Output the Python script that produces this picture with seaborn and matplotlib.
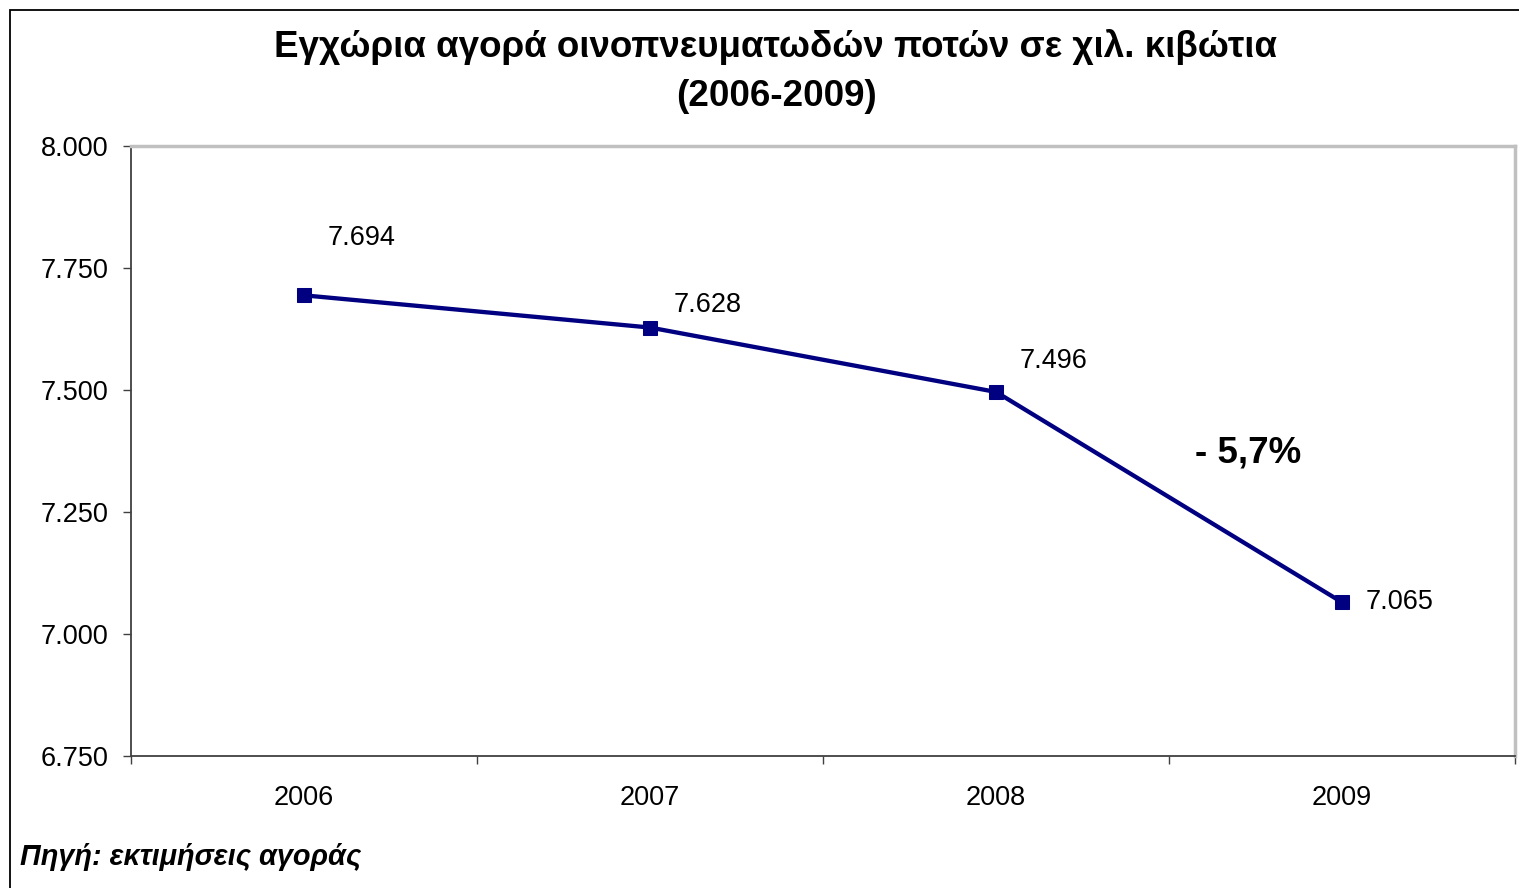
import numpy as np
import pandas as pd
import matplotlib
matplotlib.use('Agg')
import matplotlib.pyplot as plt
import matplotlib.patches as mpatches
from matplotlib.ticker import FixedLocator, FuncFormatter
import seaborn as sns

years = ['2006', '2007', '2008', '2009']
volumes = [7694, 7628, 7496, 7065]  # χιλ. κιβώτια
y_ticks = [6750, 7000, 7250, 7500, 7750, 8000]
# label offsets (px) as placed in the original
label_dx = [58, 58, 58, 58]
label_dy = [57, 23, 31, 0]

df = pd.DataFrame({'year': years, 'volume': volumes})

sns.set_style('white')
plt.rcParams['font.family'] = ['Liberation Sans', 'DejaVu Sans']
plt.rcParams['text.color'] = 'black'
plt.rcParams['xtick.color'] = 'black'
plt.rcParams['ytick.color'] = 'black'

W, H = 1519, 888
fig = plt.figure(figsize=(W / 100, H / 100), dpi=100)
ax = fig.add_axes([131 / W, 1 - 756 / H, (1515 - 131) / W, (756 - 146) / H])

sns.lineplot(data=df, x='year', y='volume', ax=ax, color='#000080',
             linewidth=3.1, marker='s', markersize=10.5,
             markeredgecolor='#000080', sort=False)

ax.set_xlim(-0.5, 3.5)
ax.set_ylim(y_ticks[0], y_ticks[-1])
ax.set_yticks(y_ticks)
ax.yaxis.set_major_formatter(FuncFormatter(lambda v, p: f'{int(v):,}'.replace(',', '.')))
ax.set_xticks(range(len(years)))
ax.set_xticklabels(years)
ax.xaxis.set_minor_locator(FixedLocator(np.arange(-0.5, 4.0, 1.0)))
ax.tick_params(axis='x', which='major', length=0, pad=21, labelsize=19.5)
ax.tick_params(axis='x', which='minor', length=6, width=1, color='#404040', direction='out', bottom=True)
ax.tick_params(axis='y', length=6, width=1, color='#404040', direction='out', left=True, pad=10, labelsize=19.5)
ax.set_xlabel('')
ax.set_ylabel('')

for side in ['left', 'bottom']:
    ax.spines[side].set_color('#404040')
    ax.spines[side].set_linewidth(1.3)
for side in ['top', 'right']:
    ax.spines[side].set_color('#c0c0c0')
    ax.spines[side].set_linewidth(2.5)

for i, v in enumerate(volumes):
    ax.annotate(f'{v:,}'.replace(',', '.'), xy=(i, v), xytext=(label_dx[i], label_dy[i]),
                textcoords='offset pixels', ha='center', va='center', fontsize=19.5)

ax.text(2.73, 7370, '- 5,7%', ha='center', va='center', fontsize=26.5, fontweight='bold')

fig.text(776 / W, 1 - 47 / H, 'Εγχώρια αγορά οινοπνευματωδών ποτών σε χιλ. κιβώτια',
         ha='center', va='center', fontsize=26.5, fontweight='bold')
fig.text(776 / W, 1 - 97 / H, '(2006-2009)', ha='center', va='center', fontsize=26.5, fontweight='bold')
fig.text(20 / W, 1 - 857 / H, 'Πηγή: εκτιμήσεις αγοράς', ha='left', va='center',
         fontsize=20.8, fontweight='bold', fontstyle='italic')

fig.patches.append(mpatches.Rectangle((10 / W, -0.1), 1.2, 1 - 10 / H + 0.1, transform=fig.transFigure,
                                      fill=False, edgecolor='black', linewidth=1.3))

fig.savefig('out.png', dpi=100)
